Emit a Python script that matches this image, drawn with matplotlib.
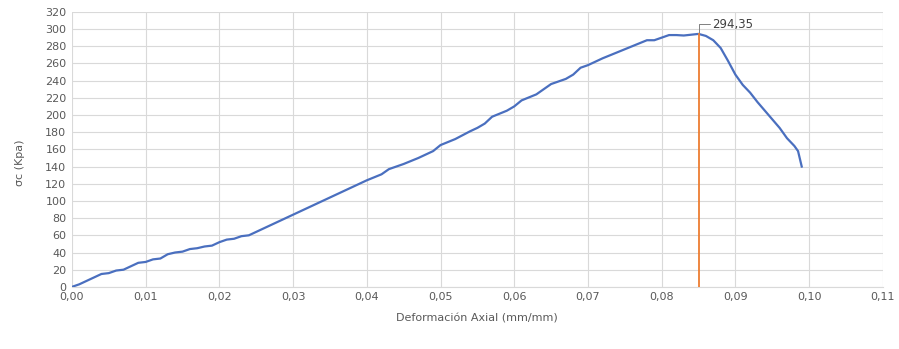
import numpy as np
import matplotlib
matplotlib.use("Agg")
import matplotlib.pyplot as plt
from matplotlib.ticker import FuncFormatter, MultipleLocator

# strain (mm/mm) vs stress (kPa)
strain = [0.000, 0.001, 0.002, 0.003, 0.004, 0.005, 0.006, 0.007, 0.008, 0.009,
          0.010, 0.011, 0.012, 0.013, 0.014, 0.015, 0.016, 0.017, 0.018, 0.019,
          0.020, 0.021, 0.022, 0.023, 0.024, 0.025, 0.026, 0.028, 0.030, 0.032,
          0.034, 0.036, 0.038, 0.040, 0.042, 0.043, 0.045, 0.047, 0.049, 0.050,
          0.052, 0.054, 0.055, 0.056, 0.057, 0.059, 0.060, 0.061, 0.063, 0.064,
          0.065, 0.067, 0.068, 0.069, 0.070, 0.072, 0.074, 0.076, 0.078, 0.079,
          0.080, 0.081, 0.082, 0.083, 0.085, 0.086, 0.087, 0.088, 0.089, 0.090,
          0.091, 0.092, 0.093, 0.094, 0.095, 0.096, 0.097, 0.098, 0.0985, 0.099]
stress = [0, 3, 7, 11, 15, 16, 19, 20, 24, 28,
          29, 32, 33, 38, 40, 41, 44, 45, 47, 48,
          52, 55, 56, 59, 60, 64, 68, 76, 84, 92,
          100, 108, 116, 124, 131, 137, 143, 150, 158, 165,
          172, 181, 185, 190, 198, 205, 210, 217, 224, 230,
          236, 242, 247, 255, 258, 266, 273, 280, 287, 287,
          290, 293, 293, 292.5, 294.35, 292, 287, 278, 263, 247,
          235, 226, 215, 205, 195, 185, 173, 164, 158, 140]

peak_x = 0.085
peak_y = 294.35
peak_label = "294,35"

fig = plt.figure(figsize=(8.99, 3.49), dpi=100)
ax = fig.add_axes([0.080, 0.178, 0.902, 0.788])

ax.plot(strain, stress, color="#4a6fbf", lw=1.6, zorder=3)
ax.plot([peak_x, peak_x], [0, peak_y], color="#ED7D31", lw=1.3, zorder=4)
ax.annotate(peak_label, xy=(peak_x, peak_y), xytext=(10, 7), textcoords="offset points",
            fontsize=8.5, color="#404040", va="center", ha="left",
            arrowprops=dict(arrowstyle="-", color="#808080", lw=0.7, shrinkA=0, shrinkB=0,
                            connectionstyle="angle,angleA=0,angleB=90,rad=0"))

ax.set_xlim(0, 0.11)
ax.set_ylim(0, 320)
ax.xaxis.set_major_locator(MultipleLocator(0.01))
ax.yaxis.set_major_locator(MultipleLocator(20))
ax.xaxis.set_major_formatter(FuncFormatter(lambda v, p: f"{v:.2f}".replace(".", ",")))
ax.yaxis.set_major_formatter(FuncFormatter(lambda v, p: f"{v:.0f}"))
ax.grid(True, color="#d9d9d9", lw=0.8)
ax.set_axisbelow(True)
for s in ["top", "right", "left"]:
    ax.spines[s].set_visible(False)
ax.spines["bottom"].set_color("#d9d9d9")
ax.tick_params(axis="both", length=0, labelsize=8, labelcolor="#595959", pad=4)

ax.set_xlabel("Deformación Axial (mm/mm)", fontsize=8, color="#595959", labelpad=8)
ax.set_ylabel("σc (Kpa)", fontsize=8, color="#595959")
ax.yaxis.set_label_coords(-0.058, 0.45)

fig.savefig("out.png", dpi=100)
